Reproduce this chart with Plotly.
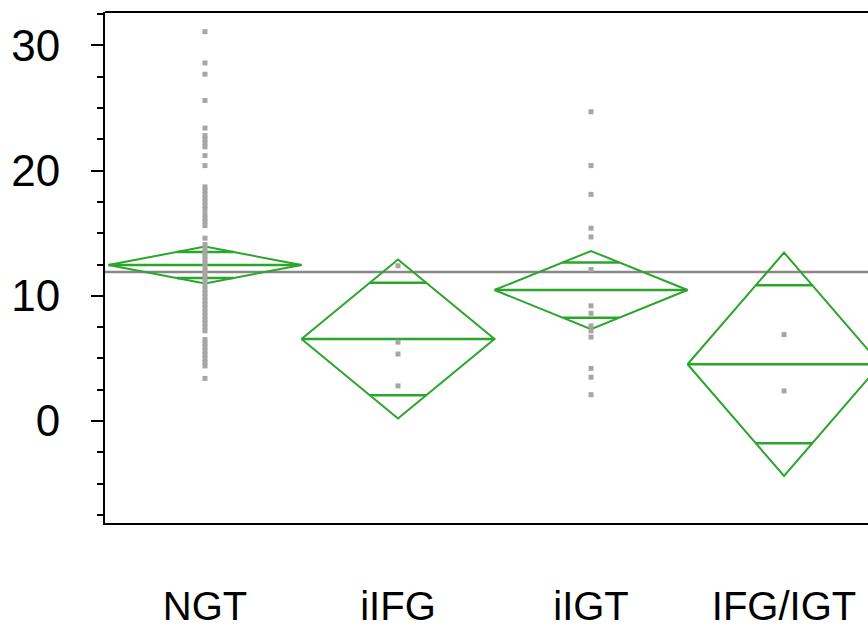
import math
import plotly.graph_objects as go

# Groups and their summary statistics (group mean, 95% CI half-width)
groups = ["NGT", "iIFG", "iIGT", "IFG/IGT"]
group_means = [12.46, 6.55, 10.46, 4.53]
ci_half = [1.47, 6.35, 3.12, 8.92]
grand_mean = 11.9

# Individual observations per group
ngt_vals = [31.1, 28.6, 27.7, 25.6, 23.4, 22.8, 22.5, 22.2, 21.9, 21.2, 20.4,
            18.7, 18.4, 18.1, 17.8, 17.5, 17.2, 16.9, 16.5, 16.2, 15.9, 15.6,
            14.6, 14.1, 13.8, 13.5, 13.2, 12.9, 12.6, 12.3, 12.0, 11.7, 11.4,
            11.1, 10.8, 10.5, 10.2, 9.9, 9.6, 9.3, 9.0, 8.7, 8.4, 8.1, 7.8,
            7.5, 7.2, 6.5, 6.2, 5.9, 5.6, 5.3, 5.0, 4.7, 4.4, 3.4]
iifg_vals = [12.4, 6.3, 5.35, 2.8]
iigt_vals = [24.7, 20.4, 18.1, 15.4, 14.7, 12.1, 9.2, 8.6, 7.6, 7.2, 6.7, 4.2, 3.5, 2.1]
ifg_igt_vals = [6.9, 2.4]
observations = [ngt_vals, iifg_vals, iigt_vals, ifg_igt_vals]

GREEN = "#2ca52c"
DOT = "#a6a6a6"
HALF_W = 0.5
fig = go.Figure()

# Means diamonds: outline, mean line and overlap marks
for i, (m, c) in enumerate(zip(group_means, ci_half)):
    fig.add_trace(go.Scatter(
        x=[i - HALF_W, i, i + HALF_W, i, i - HALF_W],
        y=[m, m + c, m, m - c, m],
        mode="lines", line=dict(color=GREEN, width=2),
        hoverinfo="skip", showlegend=False))
    fig.add_trace(go.Scatter(
        x=[i - HALF_W, i + HALF_W], y=[m, m],
        mode="lines", line=dict(color=GREEN, width=2.5),
        hoverinfo="skip", showlegend=False))
    off = c / math.sqrt(2)
    ow = HALF_W * (1 - 1 / math.sqrt(2))
    for yy in (m + off, m - off):
        fig.add_trace(go.Scatter(
            x=[i - ow, i + ow], y=[yy, yy],
            mode="lines", line=dict(color=GREEN, width=2.5),
            hoverinfo="skip", showlegend=False))

# Raw data points
for i, vals in enumerate(observations):
    fig.add_trace(go.Scatter(
        x=[i] * len(vals), y=vals, mode="markers",
        marker=dict(symbol="square", size=5, color=DOT, line=dict(width=0)),
        showlegend=False))

# Grand mean reference line
fig.add_shape(type="line", xref="paper", x0=0, x1=1, yref="y",
              y0=grand_mean, y1=grand_mean,
              line=dict(color="#888888", width=2.5), layer="below")
# Top frame line
fig.add_shape(type="line", xref="paper", x0=0, x1=1, yref="paper",
              y0=1, y1=1, line=dict(color="black", width=2))

fig.update_layout(
    width=868, height=631,
    margin=dict(l=105, r=0, t=12, b=108),
    paper_bgcolor="white", plot_bgcolor="white",
    font=dict(family="Liberation Sans, Arial, sans-serif", color="black"),
    xaxis=dict(
        range=[-0.518, 3.435], showgrid=False, zeroline=False, automargin=False,
        showline=True, linecolor="black", linewidth=2,
        tickmode="array", tickvals=list(range(len(groups))), ticktext=groups,
        ticks="", tickfont=dict(size=40), ticklabelstandoff=47),
    yaxis=dict(
        range=[-8.15, 32.67], showgrid=False, zeroline=False, automargin=False,
        showline=True, linecolor="black", linewidth=2,
        tick0=0, dtick=10, ticks="outside", ticklen=12, tickwidth=2,
        tickcolor="black", tickfont=dict(size=44), ticklabelstandoff=22,
        minor=dict(dtick=2.5, tick0=0, ticks="outside", ticklen=6,
                   tickwidth=2, tickcolor="black", showgrid=False)),
)

fig.write_html("out.html")
